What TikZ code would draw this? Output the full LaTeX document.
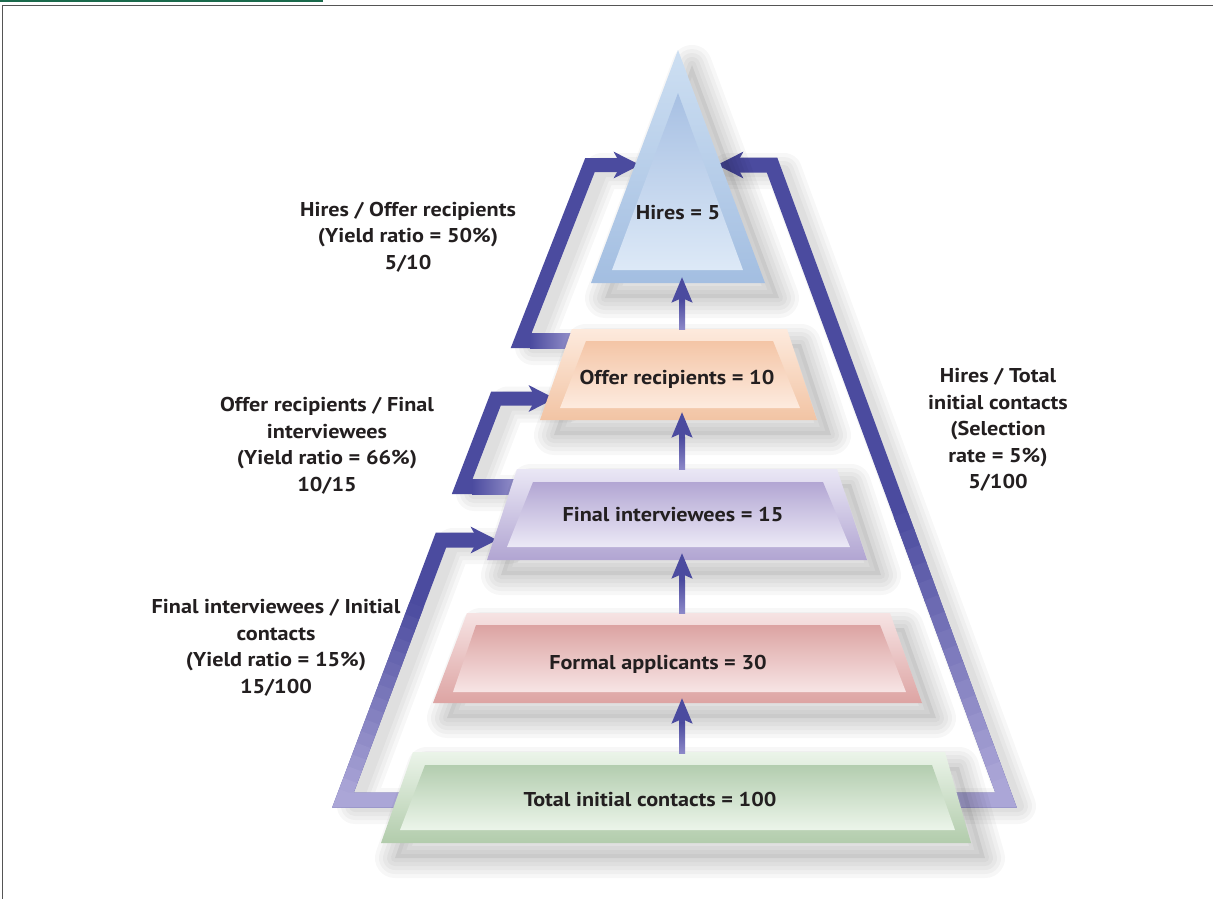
\documentclass[tikz,border=0pt]{standalone}
\usepackage{fontspec}
\setmainfont{PT Sans}[FakeStretch=1.11]
\usetikzlibrary{arrows.meta,calc}
\definecolor{band}{HTML}{4B4B9F}
\definecolor{bandlight}{HTML}{ABA6D7}
\definecolor{bandmid}{HTML}{8C88C8}
\definecolor{txt}{HTML}{231F20}
\definecolor{topgreen}{HTML}{1A6A4C}
\definecolor{framegray}{HTML}{555555}
\definecolor{hiresOT}{HTML}{CDDFF2}\definecolor{hiresOB}{HTML}{A3BEE1}
\definecolor{hiresIT}{HTML}{A7C0E3}\definecolor{hiresIB}{HTML}{DDE9F7}
\definecolor{offerOT}{HTML}{FDEADD}\definecolor{offerOB}{HTML}{F2C4A4}
\definecolor{offerIT}{HTML}{F4C5A6}\definecolor{offerIB}{HTML}{FDEBDF}
\definecolor{finalOT}{HTML}{EAE7F5}\definecolor{finalOB}{HTML}{B1A5D2}
\definecolor{finalIT}{HTML}{B2A6D3}\definecolor{finalIB}{HTML}{ECE9F6}
\definecolor{formalOT}{HTML}{F6E3E3}\definecolor{formalOB}{HTML}{DDA4A3}
\definecolor{formalIT}{HTML}{DCA3A2}\definecolor{formalIB}{HTML}{F7E5E5}
\definecolor{totalOT}{HTML}{EBF4E9}\definecolor{totalOB}{HTML}{B2CCAC}
\definecolor{totalIT}{HTML}{B3CDAF}\definecolor{totalIB}{HTML}{ECF5EA}
\tikzset{
  shadowlayer/.style={preaction={draw=black, opacity=0.03, line width=#1, line join=round, transform canvas={shift={(14pt,-15pt)}}}},
  shadowbase/.style={preaction={fill=black, opacity=0.06, transform canvas={shift={(14pt,-15pt)}}}},
  softshadow/.style={shadowbase, shadowlayer=40pt, shadowlayer=32pt, shadowlayer=24pt, shadowlayer=16pt, shadowlayer=8pt},
  bandshadow/.style={draw=black, opacity=0.03, line join=round, line cap=round},
  bandline/.style={line join=miter, line cap=butt, -{Stealth[length=26pt,width=26pt,inset=7pt]}},
  bandpiece/.style={line width=15pt, line cap=butt},
  varrow/.style={draw=band, line width=6pt, line cap=butt, -{Stealth[length=25pt,width=20pt,inset=4pt]}},
  boxtext/.style={font=\fontsize{20}{26.5}\selectfont\bfseries, text=txt, inner sep=0pt},
  labeltext/.style={font=\fontsize{20}{26.5}\selectfont\bfseries, text=txt, inner sep=0pt, align=center},
}
\begin{document}
\begin{tikzpicture}[x=1pt,y=-1pt]
\useasboundingbox (0,0) rectangle (1213,899);
\fill[white] (0,0) rectangle (1213,899);
% frame and top bar
\fill[topgreen] (0,0) rectangle (323,2.5);
\draw[framegray, line width=1.6pt] (2.5,899) -- (2.5,5.5) -- (1213,5.5);

% connector coordinates
\coordinate (hiresW) at (640,165);
\coordinate (hiresE) at (717,165);
\coordinate (offerW) at (555,398.5);
\coordinate (finalW) at (497,540);
\coordinate (Atail) at (585,341);  \coordinate (Ac1) at (521,341);  \coordinate (Ac2) at (590,165);
\coordinate (Btail) at (530,487);  \coordinate (Bc1) at (462,487);  \coordinate (Bc2) at (496,398.5);
\coordinate (Ctail) at (430,800);  \coordinate (Cc1) at (343,800);  \coordinate (Cc2) at (441,540);
\coordinate (Dtail) at (935,800);  \coordinate (Dc1) at (1006,800); \coordinate (Dc2) at (772,165);

% band shadows
\begin{scope}[transform canvas={shift={(12pt,-6pt)}}]
  \foreach \w in {36,28,20,12} {
    \draw[bandshadow, line width=\w pt] (Atail) -- (Ac1) -- (Ac2) -- (hiresW);
    \draw[bandshadow, line width=\w pt] (Btail) -- (Bc1) -- (Bc2) -- (offerW);
    \draw[bandshadow, line width=\w pt] (Ctail) -- (Cc1) -- (Cc2) -- (finalW);
    \draw[bandshadow, line width=\w pt] (Dtail) -- (Dc1) -- (Dc2) -- (hiresE);
  }
\end{scope}

% bands with small left loops
\draw[bandline, line width=14pt, band] (Atail) -- (Ac1) -- (Ac2) -- (hiresW);
\shade[left color=band, right color=bandlight] ($(Ac1)+(9,-7.1)$) rectangle ($(Atail)+(0,7.1)$);
\draw[bandline, line width=14pt, band] (Btail) -- (Bc1) -- (Bc2) -- (offerW);
\shade[left color=band, right color=bandlight] ($(Bc1)+(10,-7.1)$) rectangle ($(Btail)+(0,7.1)$);

% big bands: dark on top, fading to lavender at the bottom
\draw[bandline, line width=15pt, band] (Ctail) -- (Cc1) -- (Cc2) -- (finalW);
\draw[bandline, line width=15pt, band] (Dtail) -- (Dc1) -- (Dc2) -- (hiresE);
\foreach \i in {0,...,15} {
  \pgfmathsetmacro\ta{0.25+0.72*\i/16}
  \pgfmathsetmacro\tb{0.25+0.72*(\i+1)/16+0.004}
  \pgfmathsetmacro\pc{100-100*(\i+0.5)/16}
  \draw[bandpiece, color=band!\pc!bandlight] ($(Cc2)!\ta!(Cc1)$) -- ($(Cc2)!\tb!(Cc1)$);
  \pgfmathsetmacro\tc{0.55+0.42*\i/16}
  \pgfmathsetmacro\td{0.55+0.42*(\i+1)/16+0.003}
  \draw[bandpiece, color=band!\pc!bandlight] ($(Dc2)!\tc!(Dc1)$) -- ($(Dc2)!\td!(Dc1)$);
}
\draw[bandpiece, line join=miter, bandlight] ($(Cc2)!0.968!(Cc1)$) -- (Cc1) -- (Ctail);
\draw[bandpiece, line join=miter, bandlight] ($(Dc2)!0.968!(Dc1)$) -- (Dc1) -- (Dtail);

% boxes
\shade[softshadow, top color=totalOT, bottom color=totalOB] (413,752) -- (945,752) -- (971,843) -- (381,843) -- cycle;
\shade[top color=totalIT, bottom color=totalIB] (425,765) -- (932,765) -- (955,830) -- (400,830) -- cycle;
\shade[softshadow, top color=formalOT, bottom color=formalOB] (467,613) -- (890,613) -- (922,703) -- (433,703) -- cycle;
\shade[top color=formalIT, bottom color=formalIB] (476,625) -- (880,625) -- (906,692) -- (453,692) -- cycle;
\shade[softshadow, top color=finalOT, bottom color=finalOB] (517,469) -- (837,469) -- (867,560) -- (487,560) -- cycle;
\shade[top color=finalIT, bottom color=finalIB] (533,482) -- (823,482) -- (850,547) -- (507,547) -- cycle;
\shade[softshadow, top color=offerOT, bottom color=offerOB] (572,329) -- (787,329) -- (817,420) -- (540,420) -- cycle;
\shade[top color=offerIT, bottom color=offerIB] (586,341) -- (773,341) -- (800,408) -- (560,408) -- cycle;
\shade[softshadow, top color=hiresOT, bottom color=hiresOB] (678,50) -- (765,283) -- (591,283) -- cycle;
\shade[top color=hiresIT, bottom color=hiresIB] (678,93) -- (743,270) -- (612,270) -- cycle;

% vertical arrow anchors
\coordinate (hiresS) at (682,277);  \coordinate (offerN) at (682,329);
\coordinate (offerS) at (682,412);  \coordinate (finalN) at (682,469);
\coordinate (finalS) at (682,553);  \coordinate (formalN) at (682,613);
\coordinate (formalS) at (682,698); \coordinate (totalN) at (682,753);
\foreach \a/\b in {offerN/hiresS, finalN/offerS, formalN/finalS, totalN/formalS} {
  \draw[varrow] (\a) -- (\b);
  \shade[top color=band, bottom color=bandmid] ($(\a)+(-3,0)$) rectangle ($(\a)!0.55!(\b)+(3,0)$);
}

% texts
\node[boxtext] (hires) at (678,213) {Hires = 5};
\node[boxtext] (offer) at (677,379) {Offer recipients = 10};
\node[boxtext] (final) at (673,515) {Final interviewees = 15};
\node[boxtext] (formal) at (658,664) {Formal applicants = 30};
\node[boxtext] (total) at (650,799) {Total initial contacts = 100};

\node[labeltext] (lab1) at (408,237) {Hires / Offer recipients\\(Yield ratio = 50\%)\\5/10};
\node[labeltext] (lab2) at (327,446) {Offer recipients / Final\\interviewees\\(Yield ratio = 66\%)\\10/15};
\node[labeltext] (lab3) at (276,648) {Final interviewees / Initial\\contacts\\(Yield ratio = 15\%)\\15/100};
\node[labeltext] (lab4) at (998,430) {Hires / Total\\initial contacts\\(Selection\\rate = 5\%)\\5/100};
\end{tikzpicture}
\end{document}
